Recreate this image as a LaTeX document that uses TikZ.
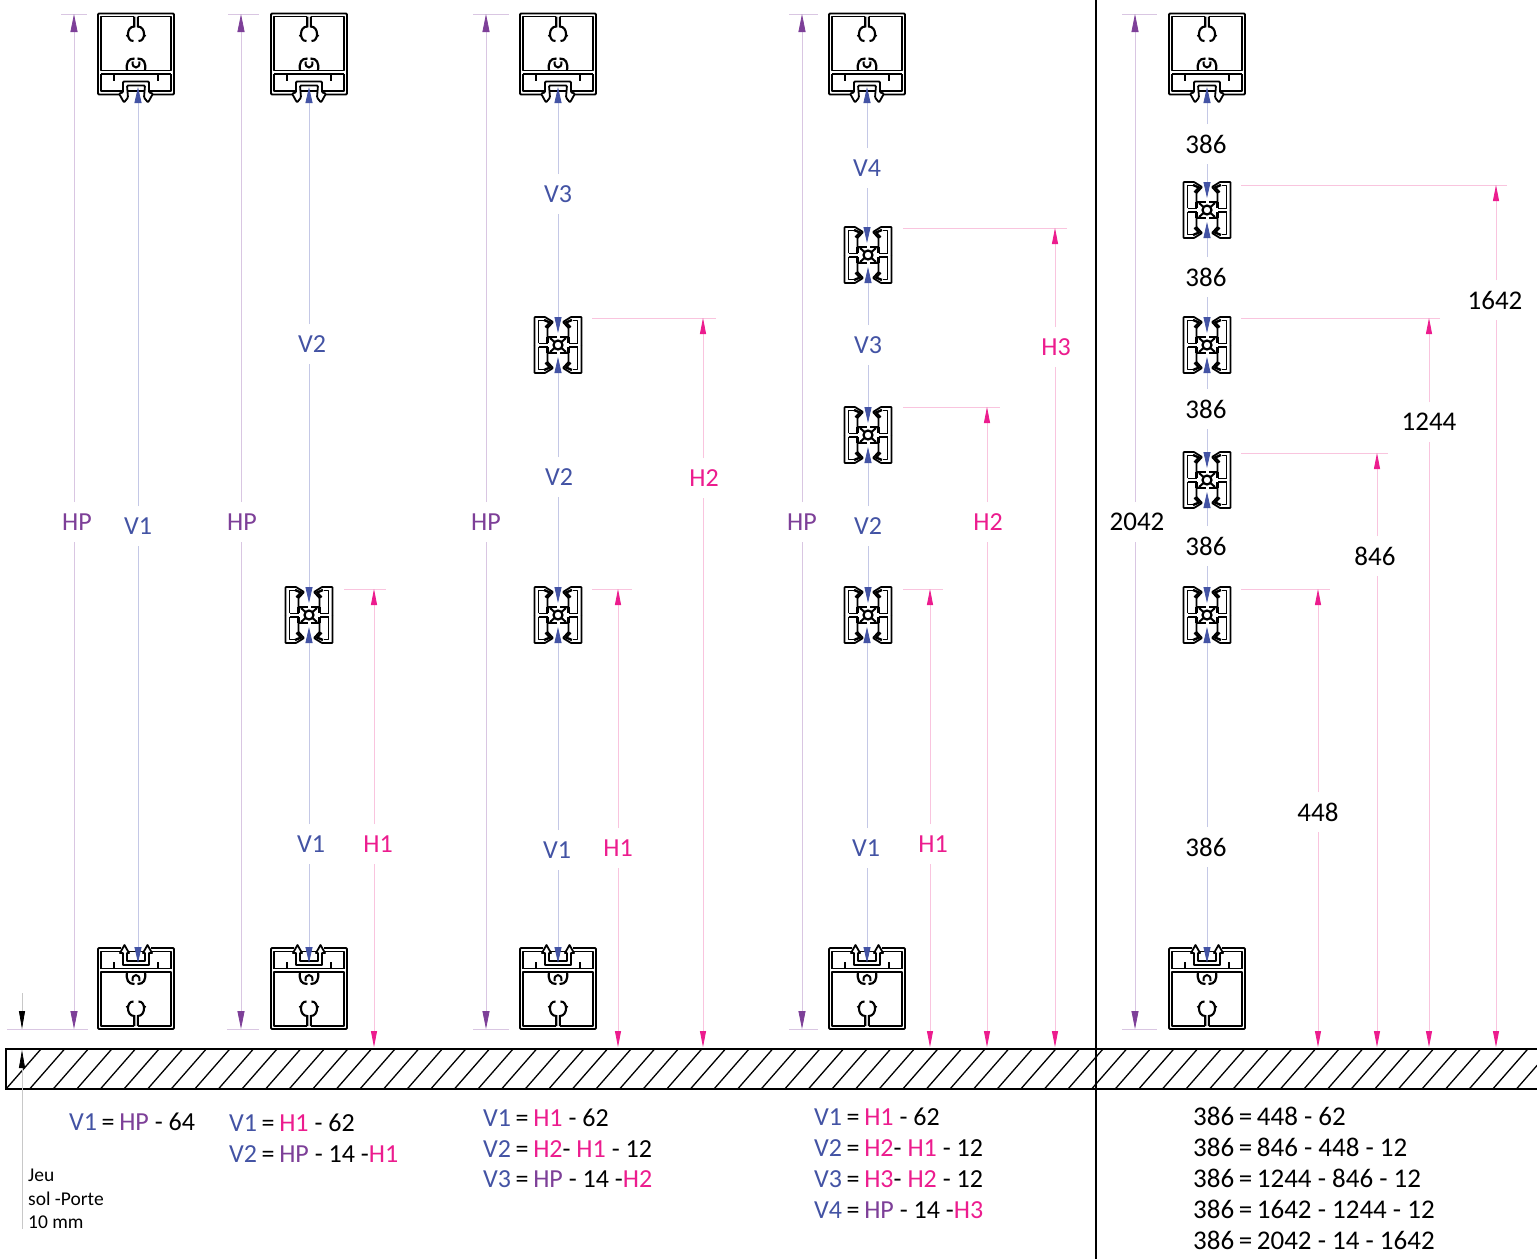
\documentclass[tikz,border=0pt]{standalone}
\usepackage{fontspec}
\setmainfont{Carlito}
\usetikzlibrary{arrows.meta}
\definecolor{vblue}{HTML}{4353A4}
\definecolor{hpurple}{HTML}{7D3F98}
\definecolor{hpink}{HTML}{EC1C8E}
\definecolor{vpale}{HTML}{C4C8E6}
\definecolor{ppale}{HTML}{D9C6E2}
\definecolor{kpale}{HTML}{F9C4DE}
\definecolor{gpale}{HTML}{C8C8C8}
\newcommand\tV[1]{\textcolor{vblue}{#1}}
\newcommand\tP[1]{\textcolor{hpurple}{#1}}
\newcommand\tH[1]{\textcolor{hpink}{#1}}
\newcommand\eqq{\hspace{4.6pt}=\hspace{4.6pt}}
\tikzset{
  x=1pt,y=-1pt,
  prof/.style={line width=1.8pt,black,line join=round},
  lab/.style={font=\fontsize{26}{26}\selectfont,inner sep=0pt,minimum height=40pt,minimum width=10pt,yshift=-.2pt},
  hpdim/.style={draw=ppale,line width=.8pt,arrows={-{Triangle[length=18pt,width=7pt,color=hpurple]}}},
  vdim/.style={draw=vpale,line width=.8pt,arrows={-{Triangle[length=16pt,width=7pt,color=vblue]}}},
  hdim/.style={draw=kpale,line width=.8pt,arrows={-{Triangle[length=16pt,width=6pt,color=hpink]}}},
  hplab/.style={lab,text=hpurple},
  vlab/.style={lab,text=vblue},
  hlab/.style={lab,text=hpink},
  klab/.style={lab,text=black,font=\fontsize{27}{27}\selectfont},
  formula/.style={font=\fontsize{26}{26}\selectfont,anchor=base west,inner sep=0pt},
  kformula/.style={font=\fontsize{27}{27}\selectfont,anchor=base west,inner sep=0pt},
  small/.style={font=\fontsize{19.5}{19.5}\selectfont,anchor=base west,inner sep=0pt},
  rail/.pic={
    \draw[prof,rounded corners=1pt] (-15,81)--(-38,81)--(-38,0)--(38,0)--(38,81)--(15,81);
    \draw[prof] (-1.8,3)--(-35,3)--(-35,57)--(35,57)--(35,3)--(1.8,3);
    \draw[prof] (-35,60.5)--(35,60.5) (-35,60.5)--(-35,77.5)--(35,77.5)--(35,60.5);
    \draw[line width=2.1pt] (-1.8,3)--(-1.8,13) .. controls (-10,13) and (-10,28) .. (-2.5,27.5);
    \draw[line width=2.1pt] (1.8,3)--(1.8,13) .. controls (10,13) and (10,28) .. (2.5,27.5);
    \draw[line width=1.3pt] (-7,23)--(-10,22) (7,23)--(10,22);
    \draw[line width=2.2pt] (-9,57) .. controls (-10,49) and (-8,45) .. (-1.5,45);
    \draw[line width=2.2pt] (9,57) .. controls (10,49) and (8,45) .. (1.5,45);
    \draw[line width=2pt] (-3.5,48) .. controls (-4.5,56) and (4.5,56) .. (3.5,48);
    \draw[line width=2.6pt] (-22,60.5)--(-22,67) (22,60.5)--(22,67);
  },
  clipT/.pic={
    \draw[prof,fill=white,rounded corners=1pt] (-13,68)--(13,68)--(13,79)--(17,80)--(12,89)--(8,84)--(9,72)--(-9,72)--(-8,84)--(-12,89)--(-17,80)--(-13,79)--cycle;
  },
  clipB/.pic={
    \draw[prof,fill=white] (-13,64)--(13,64)--(13,76)--(16,76)--(11.5,84)--(7,76)--(9,76)--(9,68)--(-9,68)--(-9,76)--(-7,76)--(-11.5,84)--(-16,76)--(-13,76)--cycle;
  },
  hprof/.pic={
    \foreach \sx in {1,-1}{\foreach \sy in {1,-1}{
      \begin{scope}[xscale=\sx,yscale=\sy]
        \draw[prof,rounded corners=.6pt] (-23.5,0)--(-23.5,-28)--(-13,-28)--(-5,-23)--(-10.5,-17)--(-10.5,-8);
        \draw[prof] (-19.5,-1.6)--(-19.5,-24.5)--(-14.5,-24.5);
        \draw[line width=2.4pt] (-14,-25)--(-8,-22.5)--(-12.5,-17.5);
        \draw[prof] (-19.5,-1.6)--(-10.5,-1.6);
        \draw[line width=2.4pt] (-10.5,-8)--(-10.5,-1.6);
        \draw[line width=2.4pt] (-11,-8)--(-1.5,-8);
        \draw[line width=2pt] (-8,-7)--(-3.5,-3);
      \end{scope}}}
    \draw[line width=2.2pt,fill=white] (0,0) circle (4.5);
  }
}
% style, name, x, y1, label, lx, ly, y2, label style
\newcommand\dimset[9]{
  \coordinate (#2a) at (#3,#4);
  \coordinate (#2b) at (#3,#8);
  \node[#9] (#2l) at (#6,#7) {#5};
  \draw[#1] (#2l.north -| #2a) -- (#2a);
  \draw[#1] (#2l.south -| #2b) -- (#2b);
}
\begin{document}
\begin{tikzpicture}
\useasboundingbox (0,0) rectangle (1537,1259);
\fill[white] (0,0) rectangle (1537,1259);

% ground
\coordinate (gA) at (6,1049);
\coordinate (gB) at (1537,1089);
\begin{scope}
  \clip (gA) rectangle (gB);
  \foreach \k in {0,...,66}{
    \draw[line width=1.3pt] ({6+23.6*\k},1089)--({41+23.6*\k},1049);
  }
\end{scope}
\draw[line width=1.6pt] (1537,1049)--(6,1049)--(6,1089)--(1537,1089);
\coordinate (sepA) at (1096,0);
\coordinate (sepB) at (1096,1259);
\draw[line width=2.6pt] (sepA)--(sepB);

% profiles
\foreach \cx in {136,309,558,867,1207}{
  \pic at (\cx,13.5) {rail};
  \pic at (\cx,13.5) {clipT};
  \pic[yscale=-1] at (\cx,1029) {rail};
  \pic[yscale=-1] at (\cx,1029) {clipB};
}
\foreach \cx/\cy in {309/615,558/345,558/615,868/255,868/435,868/615,1207/210,1207/345,1207/480,1207/615}{
  \pic at (\cx,\cy) {hprof};
}

% extension lines
\foreach \a/\b/\c in {61/14/87,228/14/259,473/14/509,789/14/818,1122/14/1157,7/1029/88,227/1029/259,473/1029/509,789/1029/818,1122/1029/1157}{
  \draw[draw=ppale,line width=.8pt] (\a,\b)--(\c,\b);
}
\foreach \a/\b/\c in {344/589/386,592/589/632,592/318/716,903/589/943,903/407/1000,903/228/1067,1241/589/1330,1241/453/1388,1241/318/1440,1241/185/1507}{
  \draw[draw=kpale,line width=.8pt] (\a,\b)--(\c,\b);
}

% column 1
\dimset{hpdim}{a1}{74}{14}{HP}{77}{522}{1029}{hplab}
\dimset{vdim}{a2}{138}{87}{V1}{138}{526}{963}{vlab}
% column 2
\dimset{hpdim}{b1}{241}{14}{HP}{242}{522}{1029}{hplab}
\dimset{vdim}{b2}{309}{87}{V2}{312}{344}{603}{vlab}
\dimset{vdim}{b3}{309}{627}{V1}{311}{844}{963}{vlab}
\dimset{hdim}{b4}{374}{589}{H1}{378}{844}{1047}{hlab}
% column 3
\dimset{hpdim}{c1}{486}{14}{HP}{486}{522}{1029}{hplab}
\dimset{vdim}{c2}{558}{87}{V3}{558}{194}{333}{vlab}
\dimset{vdim}{c3}{558}{357}{V2}{559}{477}{603}{vlab}
\dimset{vdim}{c4}{558}{627}{V1}{557}{850}{963}{vlab}
\dimset{hdim}{c5}{618}{589}{H1}{618}{848}{1047}{hlab}
\dimset{hdim}{c6}{703}{318}{H2}{704}{478}{1047}{hlab}
% column 4
\dimset{hpdim}{d1}{802}{14}{HP}{802}{522}{1029}{hplab}
\dimset{vdim}{d2}{867}{87}{V4}{867}{168}{243}{vlab}
\dimset{vdim}{d3}{868}{267}{V3}{868}{345}{423}{vlab}
\dimset{vdim}{d4}{868}{447}{V2}{868}{526}{603}{vlab}
\dimset{vdim}{d5}{867}{627}{V1}{866}{848}{963}{vlab}
\dimset{hdim}{d6}{930}{589}{H1}{933}{844}{1047}{hlab}
\dimset{hdim}{d7}{987}{407}{H2}{988}{522}{1047}{hlab}
\dimset{hdim}{d8}{1055}{228}{H3}{1056}{347}{1047}{hlab}
% column 5
\dimset{hpdim}{e1}{1135}{14}{2042}{1137}{522}{1029}{klab}
\dimset{vdim}{e2}{1207}{87}{386}{1206}{144}{198}{klab}
\dimset{vdim}{e3}{1207}{222}{386}{1206}{277}{333}{klab}
\dimset{vdim}{e4}{1207}{357}{386}{1206}{409}{468}{klab}
\dimset{vdim}{e5}{1207}{492}{386}{1206}{546}{603}{klab}
\dimset{vdim}{e6}{1207}{627}{386}{1206}{847}{963}{klab}
\dimset{hdim}{e7}{1318}{589}{448}{1318}{812}{1047}{klab}
\dimset{hdim}{e8}{1377}{453}{846}{1375}{556}{1047}{klab}
\dimset{hdim}{e9}{1429}{318}{1244}{1429}{422}{1047}{klab}
\dimset{hdim}{e10}{1496}{185}{1642}{1495}{300}{1047}{klab}

% Jeu
\coordinate (ja) at (22,993);
\coordinate (jb) at (22,1029);
\coordinate (jc) at (22,1050);
\coordinate (jd) at (22,1229);
\draw[draw=gpale,line width=.8pt,arrows={-{Triangle[length=18pt,width=6pt,color=black]}}] (ja)--(jb);
\draw[draw=gpale,line width=.8pt,arrows={-{Triangle[length=18pt,width=6pt,color=black]}}] (jd)--(jc);
\node[small] (j1) at (28,1181) {Jeu};
\node[small] (j2) at (28,1205) {sol -Porte};
\node[small] (j3) at (28,1228) {10 mm};

% formulas
\node[formula] (f1) at (69,1130) {\tV{V1}\eqq\tP{HP} - 64};
\node[formula] (f2) at (229,1131) {\tV{V1}\eqq\tH{H1} - 62};
\node[formula] (f3) at (229,1162) {\tV{V2}\eqq\tP{HP} - 14 -\tH{H1}};
\node[formula] (f4) at (483,1126) {\tV{V1}\eqq\tH{H1} - 62};
\node[formula] (f5) at (483,1157) {\tV{V2}\eqq\tH{H2}- \tH{H1} - 12};
\node[formula] (f6) at (483,1187) {\tV{V3}\eqq\tP{HP} - 14 -\tH{H2}};
\node[formula] (f7) at (814,1125) {\tV{V1}\eqq\tH{H1} - 62};
\node[formula] (f8) at (814,1156) {\tV{V2}\eqq\tH{H2}- \tH{H1} - 12};
\node[formula] (f9) at (814,1187) {\tV{V3}\eqq\tH{H3}- \tH{H2} - 12};
\node[formula] (f10) at (814,1218) {\tV{V4}\eqq\tP{HP} - 14 -\tH{H3}};
\node[kformula] (f11) at (1193,1125) {386\eqq448 - 62};
\node[kformula] (f12) at (1193,1156) {386\eqq846 - 448 - 12};
\node[kformula] (f13) at (1193,1187) {386\eqq1244 - 846 - 12};
\node[kformula] (f14) at (1193,1218) {386\eqq1642 - 1244 - 12};
\node[kformula] (f15) at (1193,1249) {386\eqq2042 - 14 - 1642};
\end{tikzpicture}
\end{document}
